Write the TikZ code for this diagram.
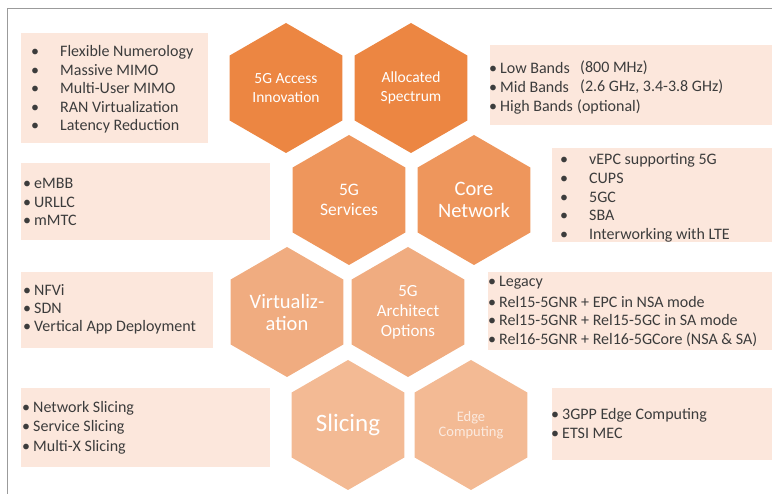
\documentclass[tikz,border=0pt]{standalone}
\usepackage{fontspec}
\setmainfont{Carlito}
\usetikzlibrary{shapes.geometric}

\definecolor{hexA}{RGB}{236,134,66}
\definecolor{hexB}{RGB}{238,150,92}
\definecolor{hexC}{RGB}{240,172,128}
\definecolor{hexD}{RGB}{243,186,148}
\definecolor{boxfill}{RGB}{252,231,220}
\definecolor{itemtext}{RGB}{60,60,60}
\definecolor{framegray}{RGB}{155,155,155}

\newcommand{\widebullet}{\makebox[29pt][l]{\textbullet}}
\newcommand{\tightbullet}{\makebox[11pt][l]{\textbullet}}

\tikzset{
  hexa/.style={regular polygon, regular polygon sides=6, shape border rotate=30,
    minimum size=130pt, inner sep=0pt, draw=none, text=white, align=center},
  infobox/.style={fill=boxfill, draw=none},
  item/.style={anchor=west, text=itemtext, inner sep=0pt, font=\fontsize{16}{18}\selectfont}
}

\begin{document}
\begin{tikzpicture}[x=1pt,y=-1pt]
\useasboundingbox (0,0) rectangle (772,494);

\draw[framegray, line width=1pt] (7,494) -- (7,9) -- (772,9);

% info boxes
\fill[infobox] (21,33) rectangle (208,143);
\fill[infobox] (21,163) rectangle (270,240);
\fill[infobox] (21,272) rectangle (213,348);
\fill[infobox] (21,388) rectangle (270,467);
\fill[infobox] (490,45) rectangle (772,125);
\fill[infobox] (552,148) rectangle (772,242);
\fill[infobox] (488,272) rectangle (772,350);
\fill[infobox] (552,388) rectangle (772,460);

% hexagons
\node[hexa, fill=hexA, font=\fontsize{15.5}{18.5}\selectfont] (access) at (286,88) {5G Access\\Innovation};
\node[hexa, fill=hexA, font=\fontsize{15.5}{18.5}\selectfont] (spectrum) at (411,88) {Allocated\\Spectrum};
\node[hexa, fill=hexB, font=\fontsize{17.5}{20}\selectfont] (services) at (349,200) {5G\\Services};
\node[hexa, fill=hexB, font=\fontsize{20.5}{22}\selectfont] (core) at (474,200) {Core\\Network};
\node[hexa, fill=hexC, font=\fontsize{20.5}{22}\selectfont] (virt) at (287,312) {Virtualiz-\\ation};
\node[hexa, fill=hexC, font=\fontsize{17}{20}\selectfont] (arch) at (408,312) {5G\\Architect\\Options};
\node[hexa, fill=hexD, font=\fontsize{25}{28}\selectfont] (slicing) at (348,425) {Slicing};
\node[hexa, fill=hexD, text=white!70!hexD, font=\fontsize{14.5}{15}\selectfont] (edge) at (471,425) {Edge\\Computing};

% access innovation
\node[item] (ai1) at (31,52) {\widebullet Flexible Numerology};
\node[item] (ai2) at (31,70) {\widebullet Massive MIMO};
\node[item] (ai3) at (31,88) {\widebullet Multi-User MIMO};
\node[item] (ai4) at (31,107) {\widebullet RAN Virtualization};
\node[item] (ai5) at (31,126) {\widebullet Latency Reduction};

% services
\node[item] (sv1) at (23,183) {\tightbullet eMBB};
\node[item] (sv2) at (23,202) {\tightbullet URLLC};
\node[item] (sv3) at (23,220) {\tightbullet mMTC};

% virtualization
\node[item] (vi1) at (23,290) {\tightbullet NFVi};
\node[item] (vi2) at (23,308) {\tightbullet SDN};
\node[item] (vi3) at (23,327) {\tightbullet Vertical App Deployment};

% slicing
\node[item] (sl1) at (22,408) {\tightbullet Network Slicing};
\node[item] (sl2) at (22,427) {\tightbullet Service Slicing};
\node[item] (sl3) at (22,447) {\tightbullet Multi-X Slicing};

% spectrum
\node[item] (sp1) at (489,68) {\tightbullet Low Bands};
\node[item] (sp2) at (489,87) {\tightbullet Mid Bands};
\node[item] (sp3) at (489,107) {\tightbullet High Bands};
\node[item] (sp1v) at (580,68) {(800 MHz)};
\node[item] (sp2v) at (580,87) {(2.6 GHz, 3.4-3.8 GHz)};
\node[item] (sp3v) at (577,107) {(optional)};

% core network
\node[item] (cn1) at (560,160) {\widebullet vEPC supporting 5G};
\node[item] (cn2) at (560,178) {\widebullet CUPS};
\node[item] (cn3) at (560,197) {\widebullet 5GC};
\node[item] (cn4) at (560,215) {\widebullet SBA};
\node[item] (cn5) at (560,235) {\widebullet Interworking with LTE};

% architecture options
\node[item] (ar1) at (488,283) {\tightbullet Legacy};
\node[item] (ar2) at (488,302) {\tightbullet Rel15-5GNR + EPC in NSA mode};
\node[item] (ar3) at (488,320) {\tightbullet Rel15-5GNR + Rel15-5GC in SA mode};
\node[item] (ar4) at (488,340) {\tightbullet Rel16-5GNR + Rel16-5GCore (NSA \& SA)};

% edge computing
\node[item] (ec1) at (551,415) {\tightbullet 3GPP Edge Computing};
\node[item] (ec2) at (551,433) {\tightbullet ETSI MEC};
\end{tikzpicture}
\end{document}
